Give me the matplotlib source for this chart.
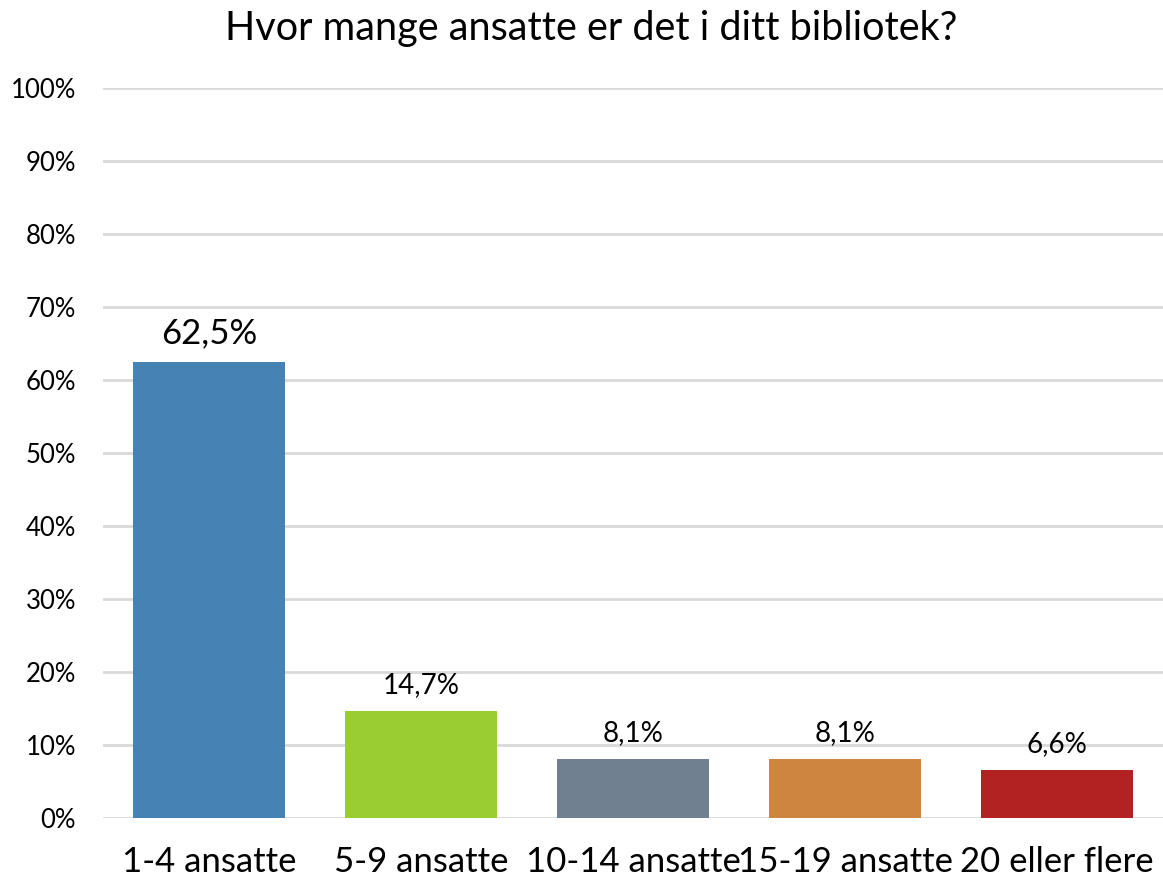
import matplotlib
matplotlib.use("Agg")
import matplotlib.pyplot as plt
import numpy as np
from matplotlib.ticker import FuncFormatter

plt.rcParams['font.family'] = ['Lato', 'DejaVu Sans']

# data
categories = ["1-4 ansatte", "5-9 ansatte", "10-14 ansatte", "15-19 ansatte", "20 eller flere"]
shares = [62.5, 14.7, 8.1, 8.1, 6.6]
bar_colors = ["#4682B4", "#9ACD32", "#708090", "#CD853F", "#B22222"]
title = "Hvor mange ansatte er det i ditt bibliotek?"

fig = plt.figure(figsize=(11.63, 8.81), dpi=100)
ax = fig.add_axes([103/1163, 1 - 818/881, 1 - 103/1163, (818 - 88)/881])

x = np.arange(len(categories))
bars = ax.bar(x, shares, width=0.72, color=bar_colors, zorder=3)

ax.set_xlim(-0.5, len(categories) - 0.5)
ax.set_ylim(0, 100)
ax.set_yticks(np.arange(0, 101, 10))
ax.yaxis.set_major_formatter(FuncFormatter(lambda v, p: f"{int(v)}%"))
ax.grid(axis='y', color='#d9d9d9', linewidth=2, zorder=0)
ax.set_axisbelow(True)
for s in ax.spines.values():
    s.set_visible(False)
ax.tick_params(axis='both', length=0)
ax.tick_params(axis='y', labelsize=18.5, pad=19.5)
ax.set_xticks(x)
ax.set_xticklabels(categories, fontsize=25)
ax.tick_params(axis='x', pad=20)

for i, (b, v) in enumerate(zip(bars, shares)):
    fs = 25 if i == 0 else 20
    ax.annotate(f"{v:.1f}%".replace(".", ","), (b.get_x() + b.get_width()/2, v),
                xytext=(0, 9), textcoords='offset points', ha='center', va='bottom',
                fontsize=fs, color='black')

fig.text(0.508, 0.968, title, ha='center', va='center', fontsize=28.5)

fig.savefig("out.png", dpi=100)
